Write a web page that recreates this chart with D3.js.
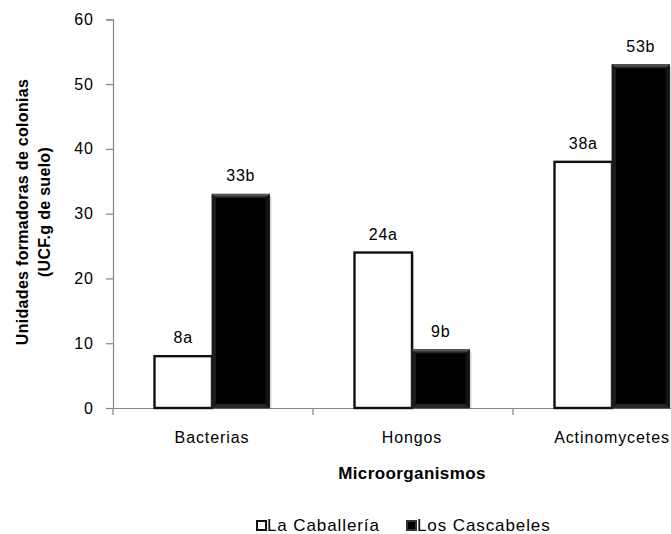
<!DOCTYPE html>
<html><head><meta charset="utf-8">
<script src="https://cdn.jsdelivr.net/npm/d3@7"></script>
<style>
body{margin:0;background:#fff;}
svg{display:block;font-family:"Liberation Sans",Arial,sans-serif;}
</style></head>
<body><svg id="c" width="671" height="534"></svg>
<script>
const categories = ["Bacterias","Hongos","Actinomycetes"];
const seriesNames = ["La Caballería","Los Cascabeles"];
const caballeria = [8,24,38];
const cascabeles = [33,9,53];
const labelsCaballeria = ["8a","24a","38a"];
const labelsCascabeles = ["33b","9b","53b"];
const yTicks = [0,10,20,30,40,50,60];

const svg = d3.select("#c");
const defs = svg.append("defs");
const g1 = defs.append("linearGradient").attr("id","bev").attr("x1",0).attr("y1",0).attr("x2",0).attr("y2",1);
g1.append("stop").attr("offset","0%").attr("stop-color","#6a6a6a");
g1.append("stop").attr("offset","100%").attr("stop-color","#0a0a0a");

const x0 = d3.scaleBand().domain(categories).range([113,713]).paddingInner(0).paddingOuter(0);
const x1 = d3.scaleBand().domain(seriesNames).range([41.5,156.5]).padding(0);
const y = d3.scaleLinear().domain([0,60]).range([408,19.3]);

// axes
const yAxis = svg.append("g").attr("transform","translate(113,0)")
  .call(d3.axisLeft(y).tickValues(yTicks).tickSize(7).tickPadding(12).tickFormat(d3.format("d")));
yAxis.select(".domain").attr("stroke","#868686").attr("stroke-width",1.2);
yAxis.selectAll(".tick line").attr("stroke","#868686").attr("stroke-width",1.2);
yAxis.selectAll(".tick text").attr("font-size",16).attr("letter-spacing",1).attr("fill","#000")
  .attr("font-family","Liberation Sans, Arial, sans-serif");

const xAxis = svg.append("g").attr("transform","translate(0,408)")
  .call(d3.axisBottom(x0).tickSize(0).tickFormat(""));
xAxis.select(".domain").attr("stroke","#868686").attr("stroke-width",1.2);
xAxis.selectAll(".tick").remove();
// category boundary ticks
const bounds = categories.map(c=>x0(c)).concat([x0(categories[categories.length-1])+x0.bandwidth()]);
svg.append("g").selectAll("line").data(bounds).join("line")
  .attr("x1",d=>d).attr("x2",d=>d).attr("y1",408).attr("y2",415)
  .attr("stroke","#868686").attr("stroke-width",1.2);
// category labels
svg.append("g").selectAll("text").data(categories).join("text")
  .attr("x",d=>x0(d)+x1.range()[0]+ (x1.range()[1]-x1.range()[0])/2)
  .attr("y",443).attr("text-anchor","middle").attr("font-size",16).attr("letter-spacing",0.9)
  .text(d=>d);

// bars
const bw = x1.bandwidth();
const gW = svg.append("g");
categories.forEach((c,i)=>{
  const xw = x0(c)+x1(seriesNames[0]);
  gW.append("rect").attr("x",xw+2).attr("y",y(caballeria[i])+2).attr("width",bw).attr("height",y(0)-y(caballeria[i])-2)
    .attr("fill","#d8d8d8");
  gW.append("rect").attr("x",xw).attr("y",y(caballeria[i])).attr("width",bw).attr("height",y(0)-y(caballeria[i]))
    .attr("fill","#fff").attr("stroke","#111").attr("stroke-width",2.4);
  const xb = x0(c)+x1(seriesNames[1]);
  const yb = y(cascabeles[i]), hb = y(0)-yb;
  gW.append("rect").attr("x",xb+2).attr("y",yb+2).attr("width",bw).attr("height",hb-2).attr("fill","#d8d8d8");
  gW.append("rect").attr("x",xb).attr("y",yb).attr("width",bw).attr("height",hb)
    .attr("fill","#000").attr("stroke","#333").attr("stroke-width",1);
  const b=4;
  gW.append("polygon").attr("points",[[xb,yb],[xb+bw,yb],[xb+bw-b,yb+b],[xb+b,yb+b]].map(p=>p.join(",")).join(" "))
    .attr("fill","url(#bev)");
  gW.append("polygon").attr("points",[[xb,yb],[xb+b,yb+b],[xb+b,yb+hb-b],[xb,yb+hb]].map(p=>p.join(",")).join(" "))
    .attr("fill","#1c1c1c");
  gW.append("polygon").attr("points",[[xb+bw,yb],[xb+bw-b,yb+b],[xb+bw-b,yb+hb-b],[xb+bw,yb+hb]].map(p=>p.join(",")).join(" "))
    .attr("fill","#141414");
  gW.append("polygon").attr("points",[[xb,yb+hb],[xb+b,yb+hb-b],[xb+bw-b,yb+hb-b],[xb+bw,yb+hb]].map(p=>p.join(",")).join(" "))
    .attr("fill","#262626");
  svg.append("text").attr("x",xw+bw/2).attr("y",y(caballeria[i])-13).attr("text-anchor","middle")
    .attr("font-size",16).attr("letter-spacing",0.8).text(labelsCaballeria[i]);
  svg.append("text").attr("x",xb+bw/2).attr("y",yb-13).attr("text-anchor","middle")
    .attr("font-size",16).attr("letter-spacing",0.8).text(labelsCascabeles[i]);
});

// axis titles
svg.append("text").attr("x",412).attr("y",479).attr("text-anchor","middle")
  .attr("font-size",17).attr("font-weight","bold").attr("letter-spacing",0.4).text("Microorganismos");
const yt = svg.append("text").attr("transform","translate(0,212) rotate(-90)")
  .attr("text-anchor","middle").attr("font-size",16).attr("font-weight","bold").attr("letter-spacing",0.3);
yt.append("tspan").attr("x",0).attr("y",28).text("Unidades formadoras de colonias");
yt.append("tspan").attr("x",0).attr("y",50).text("(UCF.g de suelo)");

// legend
const leg = svg.append("g");
const legItems = [{name:seriesNames[0],x:256,fill:"#fff",stroke:"#111"},{name:seriesNames[1],x:406,fill:"#000",stroke:"#333"}];
legItems.forEach(d=>{
  leg.append("rect").attr("x",d.x+1).attr("y",521).attr("width",9).attr("height",9)
    .attr("fill",d.fill).attr("stroke",d.stroke).attr("stroke-width",2);
  leg.append("text").attr("x",d.x+11).attr("y",531).attr("font-size",17).attr("letter-spacing",0.9).text(d.name);
});
</script></body></html>
